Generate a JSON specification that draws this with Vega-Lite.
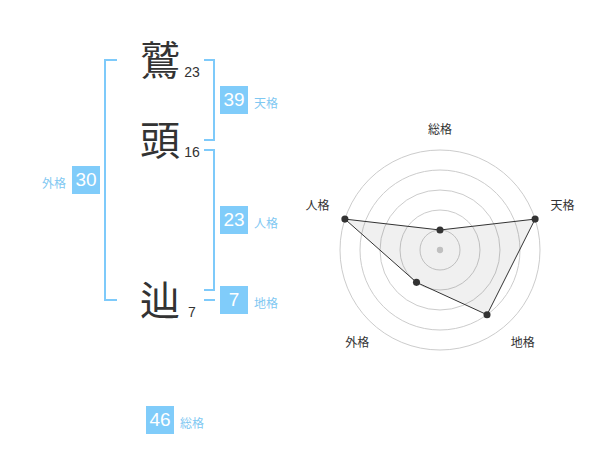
{
  "$schema": "https://vega.github.io/schema/vega-lite/v6.json",
  "padding": 0,
  "spacing": 0,
  "bounds": "flush",
  "background": "white",
  "config": {
    "view": {"stroke": null},
    "axis": {"disable": true},
    "font": "Noto Sans CJK JP"
  },
  "datasets": {
    "chars": [
      {"kanji": "鷲", "strokes": 23, "slot": 0},
      {"kanji": "頭", "strokes": 16, "slot": 1},
      {"kanji": "辿", "strokes": 7, "slot": 3}
    ],
    "kaku": [
      {"kaku": "天格", "value": 39, "side": "right", "from": 0, "to": 1},
      {"kaku": "人格", "value": 23, "side": "right", "from": 1.125, "to": 2.875},
      {"kaku": "地格", "value": 7, "side": "right", "from": 3, "to": 3},
      {"kaku": "外格", "value": 30, "side": "left", "from": 0, "to": 3},
      {"kaku": "総格", "value": 46, "side": "bottom", "from": 4.5, "to": 4.5}
    ],
    "radar": [
      {"kaku": "総格", "score": 1, "idx": 0},
      {"kaku": "天格", "score": 5, "idx": 1},
      {"kaku": "地格", "score": 4, "idx": 2},
      {"kaku": "外格", "score": 2, "idx": 3},
      {"kaku": "人格", "score": 5, "idx": 4}
    ],
    "rings": [{"level": 1}, {"level": 2}, {"level": 3}, {"level": 4}, {"level": 5}]
  },
  "hconcat": [
    {
      "width": 300,
      "height": 470,
      "layer": [
        {
          "data": {"name": "kaku"},
          "transform": [{"filter": "datum.side === 'right'"}],
          "mark": {"type": "rule", "color": "#7ecafa", "strokeWidth": 2, "strokeCap": "square"},
          "encoding": {
            "x": {"datum": 214, "type": "quantitative", "scale": {"domain": [0, 300], "nice": false, "zero": false}},
            "y": {"field": "from", "type": "quantitative", "scale": {"domain": [-0.75, 5.125], "reverse": true, "nice": false, "zero": false}},
            "y2": {"field": "to"}
          }
        },
        {
          "data": {"name": "kaku"},
          "transform": [{"filter": "datum.side === 'right'"}, {"fold": ["from", "to"], "as": ["end", "pos"]}],
          "mark": {"type": "rule", "color": "#7ecafa", "strokeWidth": 2, "strokeCap": "square"},
          "encoding": {
            "x": {"datum": 205, "type": "quantitative", "scale": {"domain": [0, 300], "nice": false, "zero": false}},
            "x2": {"datum": 214},
            "y": {"field": "pos", "type": "quantitative", "scale": {"domain": [-0.75, 5.125], "reverse": true, "nice": false, "zero": false}}
          }
        },
        {
          "data": {"name": "kaku"},
          "transform": [{"filter": "datum.side === 'left'"}],
          "mark": {"type": "rule", "color": "#7ecafa", "strokeWidth": 2, "strokeCap": "square"},
          "encoding": {
            "x": {"datum": 105, "type": "quantitative", "scale": {"domain": [0, 300], "nice": false, "zero": false}},
            "y": {"field": "from", "type": "quantitative", "scale": {"domain": [-0.75, 5.125], "reverse": true, "nice": false, "zero": false}},
            "y2": {"field": "to"}
          }
        },
        {
          "data": {"name": "kaku"},
          "transform": [{"filter": "datum.side === 'left'"}, {"fold": ["from", "to"], "as": ["end", "pos"]}],
          "mark": {"type": "rule", "color": "#7ecafa", "strokeWidth": 2, "strokeCap": "square"},
          "encoding": {
            "x": {"datum": 105, "type": "quantitative", "scale": {"domain": [0, 300], "nice": false, "zero": false}},
            "x2": {"datum": 116},
            "y": {"field": "pos", "type": "quantitative", "scale": {"domain": [-0.75, 5.125], "reverse": true, "nice": false, "zero": false}}
          }
        },
        {
          "data": {"name": "chars"},
          "mark": {"type": "text", "fontSize": 40, "color": "#333333", "align": "center", "baseline": "middle", "dy": 3, "font": "Noto Sans CJK JP"},
          "encoding": {
            "x": {"datum": 160, "type": "quantitative", "scale": {"domain": [0, 300], "nice": false, "zero": false}},
            "y": {"field": "slot", "type": "quantitative", "scale": {"domain": [-0.75, 5.125], "reverse": true, "nice": false, "zero": false}},
            "text": {"field": "kanji"}
          }
        },
        {
          "data": {"name": "chars"},
          "mark": {"type": "text", "fontSize": 14, "color": "#333333", "align": "center", "baseline": "middle", "dy": 13, "font": "Liberation Sans"},
          "encoding": {
            "x": {"datum": 192, "type": "quantitative", "scale": {"domain": [0, 300], "nice": false, "zero": false}},
            "y": {"field": "slot", "type": "quantitative", "scale": {"domain": [-0.75, 5.125], "reverse": true, "nice": false, "zero": false}},
            "text": {"field": "strokes"}
          }
        },
        {
          "data": {"name": "kaku"},
          "transform": [
            {"calculate": "datum.side === 'right' ? 234 : datum.side === 'left' ? 86 : 160", "as": "bx"},
            {"calculate": "(datum.from + datum.to) / 2", "as": "by"}
          ],
          "mark": {"type": "point", "shape": "square", "filled": true, "size": 784, "color": "#80ccfa", "opacity": 1, "strokeWidth": 0},
          "encoding": {
            "x": {"field": "bx", "type": "quantitative", "scale": {"domain": [0, 300], "nice": false, "zero": false}},
            "y": {"field": "by", "type": "quantitative", "scale": {"domain": [-0.75, 5.125], "reverse": true, "nice": false, "zero": false}}
          }
        },
        {
          "data": {"name": "kaku"},
          "transform": [
            {"calculate": "datum.side === 'right' ? 234 : datum.side === 'left' ? 86 : 160", "as": "bx"},
            {"calculate": "(datum.from + datum.to) / 2", "as": "by"}
          ],
          "mark": {"type": "text", "fontSize": 19, "color": "white", "align": "center", "baseline": "middle", "font": "Liberation Sans"},
          "encoding": {
            "x": {"field": "bx", "type": "quantitative", "scale": {"domain": [0, 300], "nice": false, "zero": false}},
            "y": {"field": "by", "type": "quantitative", "scale": {"domain": [-0.75, 5.125], "reverse": true, "nice": false, "zero": false}},
            "text": {"field": "value"}
          }
        },
        {
          "data": {"name": "kaku"},
          "transform": [
            {"filter": "datum.side !== 'left'"},
            {"calculate": "datum.side === 'right' ? 254 : 180", "as": "lx"},
            {"calculate": "(datum.from + datum.to) / 2", "as": "by"}
          ],
          "mark": {"type": "text", "fontSize": 12, "color": "#7fc8f2", "align": "left", "baseline": "middle", "dy": 4, "font": "Noto Sans CJK JP"},
          "encoding": {
            "x": {"field": "lx", "type": "quantitative", "scale": {"domain": [0, 300], "nice": false, "zero": false}},
            "y": {"field": "by", "type": "quantitative", "scale": {"domain": [-0.75, 5.125], "reverse": true, "nice": false, "zero": false}},
            "text": {"field": "kaku"}
          }
        },
        {
          "data": {"name": "kaku"},
          "transform": [
            {"filter": "datum.side === 'left'"},
            {"calculate": "(datum.from + datum.to) / 2", "as": "by"}
          ],
          "mark": {"type": "text", "fontSize": 12, "color": "#7fc8f2", "align": "right", "baseline": "middle", "dy": 4, "font": "Noto Sans CJK JP"},
          "encoding": {
            "x": {"datum": 66, "type": "quantitative", "scale": {"domain": [0, 300], "nice": false, "zero": false}},
            "y": {"field": "by", "type": "quantitative", "scale": {"domain": [-0.75, 5.125], "reverse": true, "nice": false, "zero": false}},
            "text": {"field": "kaku"}
          }
        }
      ]
    },
    {
      "width": 300,
      "height": 470,
      "layer": [
        {
          "data": {"name": "rings"},
          "mark": {"type": "point", "shape": "circle", "filled": false, "stroke": "#cccccc", "strokeWidth": 1, "opacity": 1},
          "encoding": {
            "x": {"datum": 0, "type": "quantitative", "scale": {"domain": [-7, 8], "nice": false, "zero": false}},
            "y": {"datum": 0, "type": "quantitative", "scale": {"domain": [-11, 12.5], "nice": false, "zero": false}},
            "size": {"field": "level", "type": "quantitative", "scale": {"type": "pow", "exponent": 2, "domain": [0, 5], "range": [0, 40000]}, "legend": null}
          }
        },
        {
          "data": {"name": "rings"},
          "transform": [{"filter": "datum.level === 1"}],
          "mark": {"type": "point", "shape": "circle", "filled": true, "color": "#cccccc", "size": 40, "opacity": 1},
          "encoding": {
            "x": {"datum": 0, "type": "quantitative", "scale": {"domain": [-7, 8], "nice": false, "zero": false}},
            "y": {"datum": 0, "type": "quantitative", "scale": {"domain": [-11, 12.5], "nice": false, "zero": false}}
          }
        },
        {
          "data": {"name": "radar"},
          "transform": [
            {"calculate": "datum.idx * 2 * PI / 5", "as": "ang"},
            {"calculate": "datum.score * sin(datum.ang)", "as": "px"},
            {"calculate": "datum.score * cos(datum.ang)", "as": "py"}
          ],
          "mark": {"type": "line", "interpolate": "linear-closed", "fill": "#000000", "fillOpacity": 0.06, "stroke": "#333333", "strokeWidth": 1},
          "encoding": {
            "x": {"field": "px", "type": "quantitative", "scale": {"domain": [-7, 8], "nice": false, "zero": false}},
            "y": {"field": "py", "type": "quantitative", "scale": {"domain": [-11, 12.5], "nice": false, "zero": false}},
            "order": {"field": "idx", "type": "quantitative"}
          }
        },
        {
          "data": {"name": "radar"},
          "transform": [
            {"calculate": "datum.idx * 2 * PI / 5", "as": "ang"},
            {"calculate": "datum.score * sin(datum.ang)", "as": "px"},
            {"calculate": "datum.score * cos(datum.ang)", "as": "py"}
          ],
          "mark": {"type": "point", "shape": "circle", "filled": true, "color": "#333333", "size": 50, "opacity": 1},
          "encoding": {
            "x": {"field": "px", "type": "quantitative", "scale": {"domain": [-7, 8], "nice": false, "zero": false}},
            "y": {"field": "py", "type": "quantitative", "scale": {"domain": [-11, 12.5], "nice": false, "zero": false}}
          }
        },
        {
          "data": {"name": "radar"},
          "transform": [
            {"calculate": "datum.idx * 2 * PI / 5", "as": "ang"},
            {"calculate": "5.5 * sin(datum.ang) + (abs(sin(datum.ang)) > 0.1 ? 0.9 * (sin(datum.ang) > 0 ? 1 : -1) : 0)", "as": "lx"},
            {"calculate": "5.5 * cos(datum.ang) + 0.35 * (cos(datum.ang) > 0 ? 1 : -1) + 0.15", "as": "ly"}
          ],
          "mark": {"type": "text", "fontSize": 12, "color": "#333333", "align": "center", "baseline": "middle", "font": "Noto Sans CJK JP"},
          "encoding": {
            "x": {"field": "lx", "type": "quantitative", "scale": {"domain": [-7, 8], "nice": false, "zero": false}},
            "y": {"field": "ly", "type": "quantitative", "scale": {"domain": [-11, 12.5], "nice": false, "zero": false}},
            "text": {"field": "kaku"}
          }
        }
      ]
    }
  ]
}
